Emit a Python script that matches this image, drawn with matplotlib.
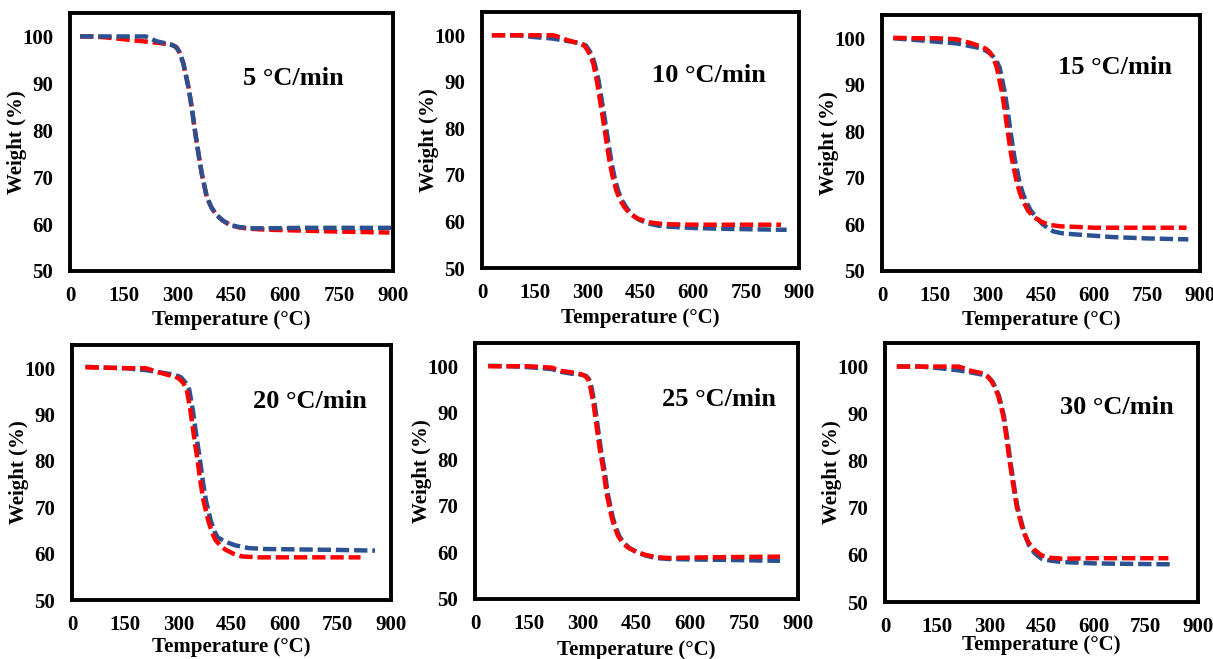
import matplotlib
matplotlib.use("Agg")
import matplotlib.pyplot as plt

plt.rcParams['font.family'] = ['Liberation Serif', 'DejaVu Serif']
plt.rcParams['font.weight'] = 'bold'

# ---- data ----
rates = ["5 °C/min", "10 °C/min", "15 °C/min", "20 °C/min", "25 °C/min", "30 °C/min"]
x_ticks = [0, 150, 300, 450, 600, 750, 900]
y_ticks = [50, 60, 70, 80, 90, 100]

# 5 °C/min
T5_red = [28, 60, 100, 150, 200, 250, 285, 298, 306, 316, 330, 339, 348, 358, 367, 381, 395, 409, 425, 446, 470, 502, 550, 650, 750, 890]
W5_red = [100, 100, 99.8, 99.4, 99.0, 98.6, 98.2, 97.6, 96.5, 94.2, 89.2, 85.0, 80.0, 75.0, 70.8, 65.8, 63.4, 61.9, 60.8, 59.8, 59.3, 59.0, 58.8, 58.6, 58.4, 58.2]
T5_blue = [28, 100, 150, 210, 225, 240, 280, 295, 306, 316, 330, 339, 348, 358, 367, 381, 395, 409, 425, 446, 470, 502, 550, 650, 750, 897]
W5_blue = [100, 100, 100, 100, 99.6, 99.0, 98.3, 97.8, 96.5, 94.2, 89.2, 85.0, 80.0, 75.0, 70.8, 65.8, 63.4, 61.9, 60.8, 59.8, 59.4, 59.1, 59.1, 59.2, 59.2, 59.2]

# 10 °C/min
T10_red = [28, 100, 150, 202, 220, 240, 278, 290, 297, 307, 316, 326, 335, 344, 354, 363, 373, 382, 392, 405, 420, 440, 468, 495, 524, 600, 700, 849]
W10_red = [100, 100, 100, 100, 99.6, 99.0, 98.2, 97.8, 97.1, 95.8, 93.9, 90.3, 86.0, 81.8, 76.8, 72.5, 68.9, 66.5, 64.6, 63.0, 61.7, 60.7, 59.9, 59.6, 59.4, 59.3, 59.3, 59.3]
T10_blue = [28, 100, 150, 200, 240, 280, 295, 303, 312, 320, 331, 340, 349, 359, 368, 378, 387, 397, 410, 425, 445, 470, 500, 524, 600, 700, 865]
W10_blue = [100, 100, 99.6, 99.3, 98.8, 98.3, 97.8, 96.9, 95.8, 93.9, 90.3, 86.0, 81.8, 76.8, 72.5, 68.9, 66.5, 64.6, 63.0, 61.5, 60.4, 59.6, 59.1, 58.9, 58.6, 58.4, 58.2]

# 15 °C/min
T15_red = [32, 100, 150, 211, 230, 250, 277, 295, 306, 316, 325, 339, 348, 357, 367, 381, 390, 400, 413, 428, 450, 475, 505, 541, 600, 700, 862]
W15_red = [100.1, 100, 100, 99.8, 99.4, 99.0, 98.3, 97.7, 96.9, 95.6, 93.7, 88.6, 84.3, 79.3, 74.3, 69.2, 66.8, 64.9, 63.0, 61.7, 60.6, 59.9, 59.6, 59.5, 59.3, 59.3, 59.3]
T15_blue = [32, 117, 211, 277, 295, 310, 323, 333, 347, 356, 365, 375, 389, 398, 408, 421, 436, 455, 485, 510, 541, 650, 750, 867]
W15_blue = [100, 99.5, 98.9, 97.9, 97.3, 96.5, 95.3, 93.7, 88.6, 84.3, 79.3, 74.3, 69.2, 66.8, 64.9, 63.0, 61.6, 60.0, 58.5, 58.1, 57.9, 57.3, 57.0, 56.8]

# 20 °C/min
T20_red = [38, 100, 150, 207, 225, 240, 273, 290, 301, 314, 324, 334, 343, 353, 362, 371, 385, 394, 404, 418, 432, 455, 479, 526, 600, 700, 814]
W20_red = [100.2, 100.1, 100, 100, 99.6, 99.2, 98.5, 98.2, 97.8, 96.8, 95.3, 90.9, 85.9, 80.8, 75.7, 71.4, 67.0, 64.8, 63.0, 61.8, 60.9, 60.0, 59.4, 59.2, 59.2, 59.2, 59.2]
T20_blue = [38, 100, 150, 207, 240, 280, 300, 308, 320, 331, 341, 350, 360, 369, 378, 392, 402, 411, 432, 460, 498, 545, 650, 750, 855]
W20_blue = [100.3, 100.1, 100, 99.6, 99.2, 98.7, 98.3, 98.0, 96.9, 95.3, 90.9, 85.9, 80.8, 75.7, 71.4, 67.0, 64.8, 63.5, 62.6, 61.8, 61.2, 61.0, 60.9, 60.8, 60.65]

# 25 °C/min
T25_red = [37, 100, 150, 214, 240, 269, 295, 307, 315, 320, 330, 339, 348, 358, 367, 381, 390, 399, 412, 427, 450, 474, 505, 539, 600, 700, 850]
W25_red = [100, 100, 100, 99.7, 99.0, 98.7, 98.3, 97.9, 97.2, 96.1, 92.1, 87.0, 82.0, 77.6, 72.6, 67.5, 65.2, 63.5, 62.0, 61.0, 60.1, 59.5, 59.0, 58.8, 58.9, 59.0, 59.1]
T25_blue = [37, 100, 150, 214, 240, 269, 298, 310, 318, 323, 333, 342, 351, 361, 370, 384, 393, 402, 415, 430, 452, 477, 505, 539, 600, 700, 850]
W25_blue = [100.1, 100, 99.8, 99.4, 98.8, 98.4, 98.2, 97.9, 97.2, 96.1, 92.1, 87.0, 82.0, 77.6, 72.6, 67.5, 65.2, 63.5, 62.0, 61.0, 60.0, 59.3, 58.8, 58.6, 58.5, 58.4, 58.2]

# 30 °C/min
T30_red = [34, 100, 150, 211, 225, 240, 278, 295, 307, 316, 326, 340, 350, 359, 369, 378, 393, 402, 412, 428, 450, 475, 508, 600, 700, 815]
W30_red = [100, 100, 100, 100, 99.7, 99.2, 98.6, 97.9, 96.8, 95.5, 93.7, 89.5, 84.5, 79.6, 74.7, 70.5, 66.2, 64.3, 62.7, 61.2, 59.9, 59.4, 59.2, 59.3, 59.3, 59.3]
T30_blue = [34, 100, 150, 211, 250, 278, 297, 309, 318, 328, 342, 352, 361, 371, 380, 395, 404, 414, 430, 450, 475, 508, 600, 700, 831]
W30_blue = [100, 100, 99.7, 99.2, 98.7, 98.3, 97.8, 96.8, 95.5, 93.7, 89.5, 84.5, 79.6, 74.7, 70.5, 66.2, 64.0, 62.0, 60.4, 59.2, 58.8, 58.5, 58.2, 58.1, 58.0]

panels = [
    (T5_red, W5_red, T5_blue, W5_blue),
    (T10_red, W10_red, T10_blue, W10_blue),
    (T15_red, W15_red, T15_blue, W15_blue),
    (T20_red, W20_red, T20_blue, W20_blue),
    (T25_red, W25_red, T25_blue, W25_blue),
    (T30_red, W30_red, T30_blue, W30_blue),
]

# ---- layout ----
W_PX, H_PX = 1213, 659
frames_px = [  # left, top, right, bottom in pixels
    (70, 13, 393, 271),
    (482, 12, 799, 268),
    (882, 15, 1200, 271),
    (72, 345, 391, 600),
    (475, 343, 798, 599),
    (885, 343, 1198, 602),
]
xlabel_offset_px = [49, 50, 49, 47, 51, 43]
label_pos = [(482, 91.0), (483, 91.4), (498, 93.7), (511, 92.8), (520, 92.8), (503, 91.2)]
blue_on_top = [True, False, False, False, False, False]

RED = '#FF0000'
BLUE = '#2B5190'

fig = plt.figure(figsize=(W_PX / 100, H_PX / 100), dpi=100)

for i, (tr, wr, tb, wb) in enumerate(panels):
    l, t, r, b = frames_px[i]
    wpx, hpx = r - l, b - t
    ax = fig.add_axes([l / W_PX, 1 - b / H_PX, wpx / W_PX, hpx / H_PX])
    zr, zb = (2, 3) if blue_on_top[i] else (3, 2)
    ax.plot(tr, wr, color=RED, lw=3.2, linestyle=(0, (3.0, 1.1)), zorder=zr)
    ax.plot(tb, wb, color=BLUE, lw=3.2, linestyle=(0, (3.0, 1.1)), zorder=zb)
    ax.set_xlim(0, 900)
    ax.set_ylim(50, 105)
    ax.set_xticks(x_ticks)
    ax.set_yticks(y_ticks)
    ax.tick_params(length=0, labelsize=15, pad=11)
    ax.tick_params(axis='y', pad=12)
    for lab in ax.get_xticklabels() + ax.get_yticklabels():
        lab.set_fontweight('bold')
    for s in ax.spines.values():
        s.set_linewidth(2.8)
        s.set_color('black')
    ax.set_xlabel('Temperature (°C)', fontsize=15, fontweight='bold')
    ax.set_ylabel('Weight (%)', fontsize=15, fontweight='bold')
    ax.xaxis.label.set_va('center')
    ax.yaxis.label.set_va('center')
    ax.xaxis.set_label_coords(0.5, -xlabel_offset_px[i] / hpx)
    ax.yaxis.set_label_coords(-53 / wpx, 0.5)
    lx, ly = label_pos[i]
    ax.text(lx, ly, rates[i], fontsize=19, fontweight='bold', ha='left', va='center')

fig.savefig('out.png', dpi=100)
